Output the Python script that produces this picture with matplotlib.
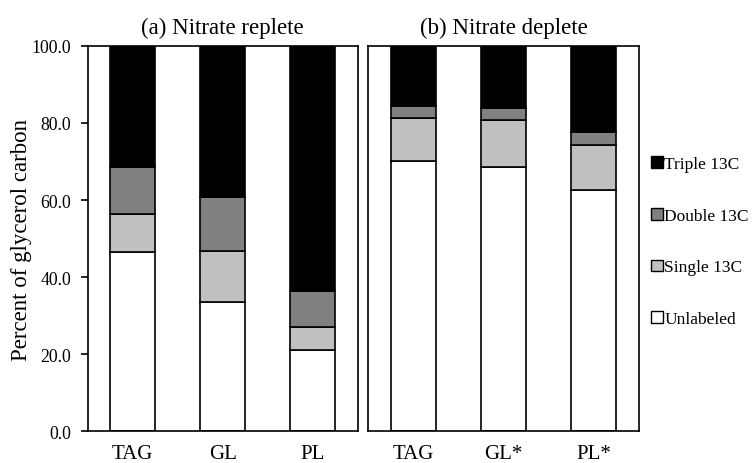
import matplotlib.pyplot as plt
from matplotlib.patches import Patch

plt.rcParams["font.family"] = ["Liberation Serif", "DejaVu Serif"]

# percentages per labeling class
cats_a = ["TAG", "GL", "PL"]
cats_b = ["TAG", "GL*", "PL*"]
unlabeled_a = [46.6, 33.6, 21.1]
single_a = [9.8, 13.2, 5.9]
double_a = [12.3, 14.0, 9.3]
triple_a = [31.3, 39.2, 63.7]
unlabeled_b = [70.2, 68.6, 62.7]
single_b = [11.0, 12.1, 11.7]
double_b = [3.3, 3.1, 3.3]
triple_b = [15.5, 16.2, 22.3]

series_names = ["Unlabeled", "Single 13C", "Double 13C", "Triple 13C"]
colors = ["#ffffff", "#c0c0c0", "#808080", "#000000"]

fig = plt.figure(figsize=(7.55, 4.64), dpi=100)
ax1 = fig.add_axes([0.116, 0.068, 0.358, 0.831])
ax2 = fig.add_axes([0.488, 0.068, 0.358, 0.831])


def stacked(ax, cats, series, title):
    x = list(range(len(cats)))
    bottom = [0.0] * len(cats)
    for vals, col in zip(series, colors):
        ax.bar(x, vals, 0.5, bottom=bottom, color=col, edgecolor="black", linewidth=1.2)
        bottom = [b + v for b, v in zip(bottom, vals)]
    ax.set_xlim(-0.5, 2.5)
    ax.set_ylim(0, 100)
    ax.set_xticks(x)
    ax.set_xticklabels(cats, fontsize=15)
    ax.tick_params(axis="x", length=0, pad=9)
    ax.set_title(title, fontsize=16.5, pad=9)
    for s in ax.spines.values():
        s.set_linewidth(1.2)


stacked(ax1, cats_a, [unlabeled_a, single_a, double_a, triple_a], "(a) Nitrate replete")
stacked(ax2, cats_b, [unlabeled_b, single_b, double_b, triple_b], "(b) Nitrate deplete")

ax1.set_yticks([0, 20, 40, 60, 80, 100])
ax1.set_yticklabels(["%.1f" % v for v in [0, 20, 40, 60, 80, 100]], fontsize=12.8)
ax1.tick_params(axis="y", direction="out", length=5, width=1.2, pad=7)
ax1.set_ylabel("Percent of glycerol carbon", fontsize=16.5)
ax1.yaxis.set_label_coords(-0.206, 0.5)
ax2.set_yticks([])

handles = [Patch(facecolor=c, edgecolor="black", linewidth=1.0, label=n)
           for n, c in zip(series_names, colors)][::-1]
fig.legend(handles=handles, loc="center left", bbox_to_anchor=(0.842, 0.477),
           frameon=False, fontsize=12.5, handlelength=0.65, handleheight=0.65,
           handletextpad=0.1, labelspacing=2.05)

plt.savefig("out.png", dpi=100)
